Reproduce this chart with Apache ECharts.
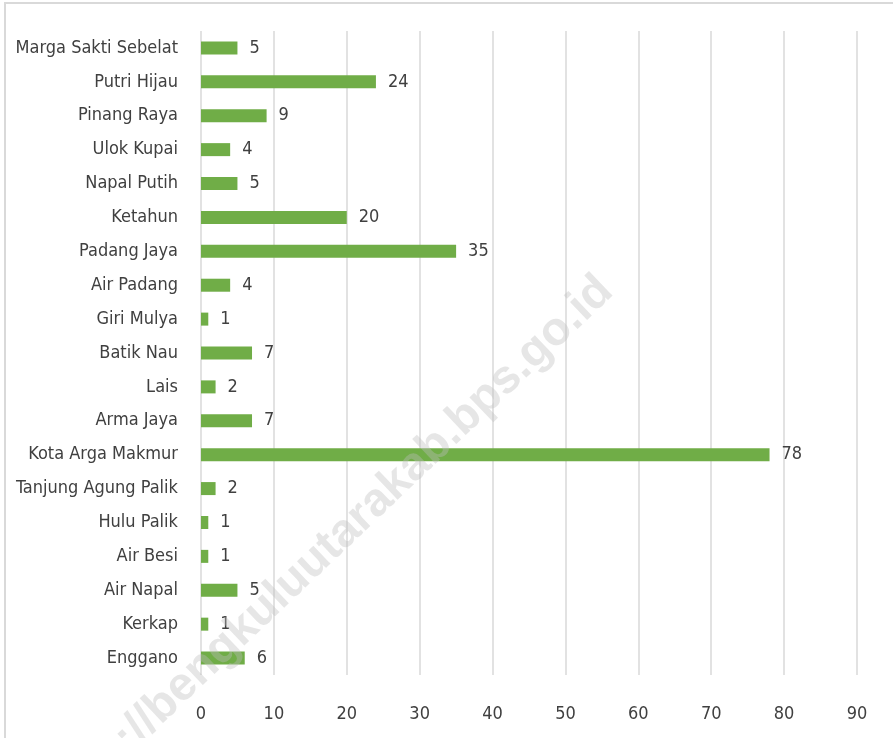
<!DOCTYPE html>
<html>
<head>
<meta charset="utf-8">
<script src="https://cdn.jsdelivr.net/npm/echarts@6/dist/echarts.min.js"></script>
<style>
  html, body { margin: 0; padding: 0; background: #fff; }
  #container { width: 893px; height: 738px; }
</style>
</head>
<body>
<div id="container"></div>
<script>
// data, bottom to top as drawn on the category axis
var kecamatan = ['Enggano', 'Kerkap', 'Air Napal', 'Air Besi', 'Hulu Palik', 'Tanjung Agung Palik',
  'Kota Arga Makmur', 'Arma Jaya', 'Lais', 'Batik Nau', 'Giri Mulya', 'Air Padang', 'Padang Jaya',
  'Ketahun', 'Napal Putih', 'Ulok Kupai', 'Pinang Raya', 'Putri Hijau', 'Marga Sakti Sebelat'];
var jumlah = [6, 1, 5, 1, 1, 2, 78, 7, 2, 7, 1, 4, 35, 20, 5, 4, 9, 24, 5];
var xTicks = [0, 10, 20, 30, 40, 50, 60, 70, 80, 90];

var font = '"Liberation Sans Narrow", "DejaVu Sans Condensed", Roboto, sans-serif';

var dom = document.getElementById('container');
var myChart = echarts.init(dom, null, { renderer: 'canvas' });
var option = {
  backgroundColor: '#fff',
  animation: false,
  textStyle: { fontFamily: font },
  grid: { left: 201, right: 36, top: 31, bottom: 63, containLabel: false },
  xAxis: {
    type: 'value',
    min: xTicks[0],
    max: xTicks[xTicks.length - 1],
    interval: 10,
    axisLine: { show: false },
    axisTick: { show: false },
    axisLabel: { color: '#404040', fontSize: 18, margin: 30, fontFamily: font },
    splitLine: { lineStyle: { color: '#d9d9d9', width: 1.5 } }
  },
  yAxis: {
    type: 'category',
    data: kecamatan,
    axisLine: { show: false },
    axisTick: { show: false },
    axisLabel: { color: '#404040', fontSize: 18, margin: 23, fontFamily: font }
  },
  series: [{
    type: 'bar',
    data: jumlah,
    barWidth: 13,
    itemStyle: { color: '#70ad47' },
    label: {
      show: true,
      position: 'right',
      distance: 12,
      color: '#404040',
      fontSize: 18,
      fontFamily: font
    }
  }],
  graphic: [
    {
      type: 'rect',
      shape: { x: 5, y: 3, width: 900, height: 760 },
      style: { fill: 'none', stroke: '#d9d9d9', lineWidth: 2 },
      z: 0
    },
    {
      // watermark
      type: 'text',
      x: 606,
      y: 284,
      rotation: 0.76,
      z: 100,
      style: {
        text: 'https://bengkuluutarakab.bps.go.id',
        font: 'bold 47px "Liberation Sans", Arial, sans-serif',
        fill: 'rgba(190,190,190,0.38)',
        textAlign: 'right',
        textVerticalAlign: 'middle'
      }
    }
  ]
};
myChart.setOption(option);
</script>
</body>
</html>
